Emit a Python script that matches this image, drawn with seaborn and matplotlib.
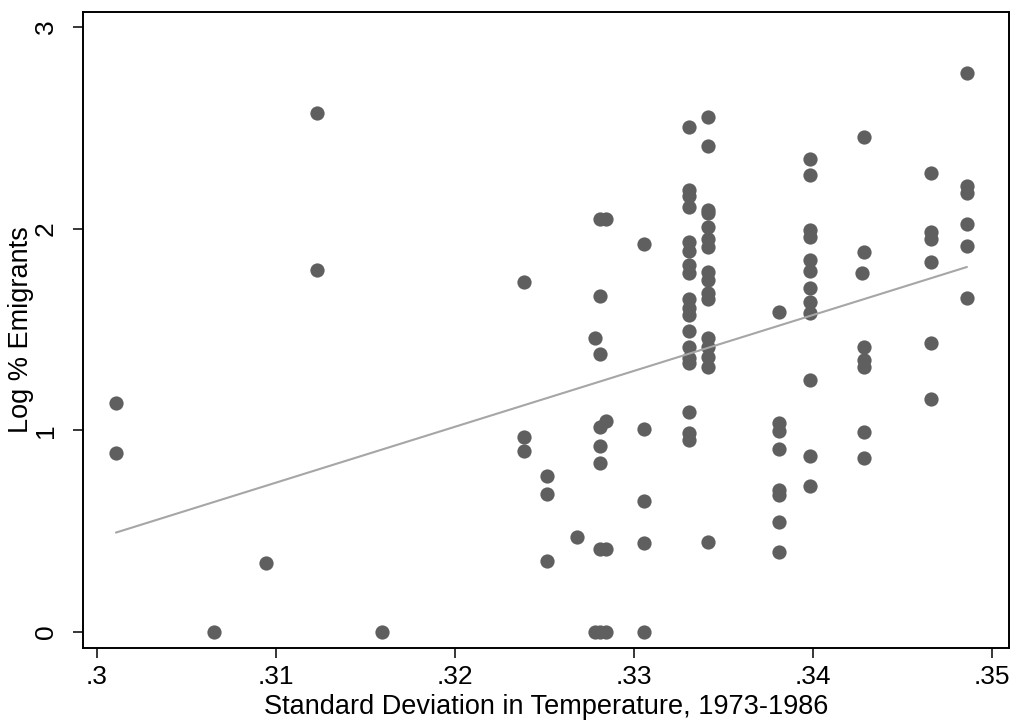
import numpy as np
import pandas as pd
import seaborn as sns
import matplotlib.pyplot as plt
from matplotlib.ticker import FixedLocator, FixedFormatter

# temperature s.d. per column of points, and log % emigrants
sd_cols = [0.30106, 0.30654, 0.30944, 0.31229, 0.31592, 0.32385, 0.32514, 0.32682,
           0.32782, 0.32810, 0.32844, 0.33056, 0.33307, 0.33413, 0.33810, 0.33983,
           0.34274, 0.34285, 0.34659, 0.34860]
emig_cols = [
    [1.135, 0.89],
    [0.0],
    [0.342],
    [2.573, 1.795],
    [0.0],
    [1.735, 0.967, 0.897],
    [0.773, 0.684, 0.352],
    [0.471],
    [1.457, 0.0],
    [2.048, 1.666, 1.378, 1.016, 0.922, 0.84, 0.41, 0.0],
    [2.048, 1.046, 0.41, 0.0],
    [1.924, 1.006, 0.65, 0.441, 0.0],
    [2.504, 2.19, 2.16, 2.107, 1.934, 1.889, 1.82, 1.78, 1.65, 1.606, 1.572,
     1.492, 1.413, 1.358, 1.334, 1.091, 0.987, 0.952],
    [2.553, 2.41, 2.09, 2.08, 2.008, 1.95, 1.91, 1.785, 1.745, 1.68, 1.65,
     1.458, 1.414, 1.364, 1.315, 0.446],
    [1.587, 1.036, 0.997, 0.907, 0.704, 0.679, 0.545, 0.397],
    [2.345, 2.266, 1.993, 1.958, 1.844, 1.79, 1.706, 1.636, 1.58, 1.25, 0.873, 0.724],
    [1.78],
    [2.454, 1.884, 1.413, 1.349, 1.314, 0.992, 0.863],
    [2.276, 1.983, 1.948, 1.834, 1.433, 1.155],
    [2.771, 2.211, 2.176, 2.023, 1.914, 1.656],
]
x_ticks = [0.30, 0.31, 0.32, 0.33, 0.34, 0.35]
x_ticklabels = [".3", ".31", ".32", ".33", ".34", ".35"]
y_ticks = [0, 1, 2, 3]
y_ticklabels = ["0", "1", "2", "3"]

rows = []
for sd, vals in zip(sd_cols, emig_cols):
    for v in vals:
        rows.append((sd, v))
df = pd.DataFrame(rows, columns=["sd_temp", "log_emig"])

sns.set_style("white")
plt.rcParams['font.family'] = ['Liberation Sans', 'DejaVu Sans']

fig = plt.figure(figsize=(10.16, 7.24), dpi=100)
ax = fig.add_axes([0.0817, 0.105, 0.9114, 0.8784])

sns.regplot(data=df, x="sd_temp", y="log_emig", ci=None, ax=ax,
            scatter_kws=dict(s=105, color="#5f5f5f", alpha=1, linewidths=0),
            line_kws=dict(color="#a6a6a6", lw=1.5))

ax.set_xlim(0.29922, 0.35095)
ax.set_ylim(-0.079, 3.074)
ax.xaxis.set_major_locator(FixedLocator(x_ticks))
ax.xaxis.set_major_formatter(FixedFormatter(x_ticklabels))
ax.yaxis.set_major_locator(FixedLocator(y_ticks))
ax.yaxis.set_major_formatter(FixedFormatter(y_ticklabels))

ax.tick_params(axis="both", which="major", bottom=True, left=True,
               direction="out", length=7, width=1.1,
               color="black", labelsize=19, labelcolor="black")
ax.tick_params(axis="x", pad=5)
ax.tick_params(axis="y", pad=11)
plt.setp(ax.get_yticklabels(), rotation=90, va="center")

for sp in ax.spines.values():
    sp.set_visible(True)
    sp.set_color("black")
    sp.set_linewidth(1.4)

ax.set_xlabel("Standard Deviation in Temperature, 1973-1986", fontsize=19.5,
              color="black", labelpad=3.5)
ax.set_ylabel("Log % Emigrants", fontsize=19.5, color="black", labelpad=0)

fig.savefig("out.png", dpi=100, facecolor="white")
